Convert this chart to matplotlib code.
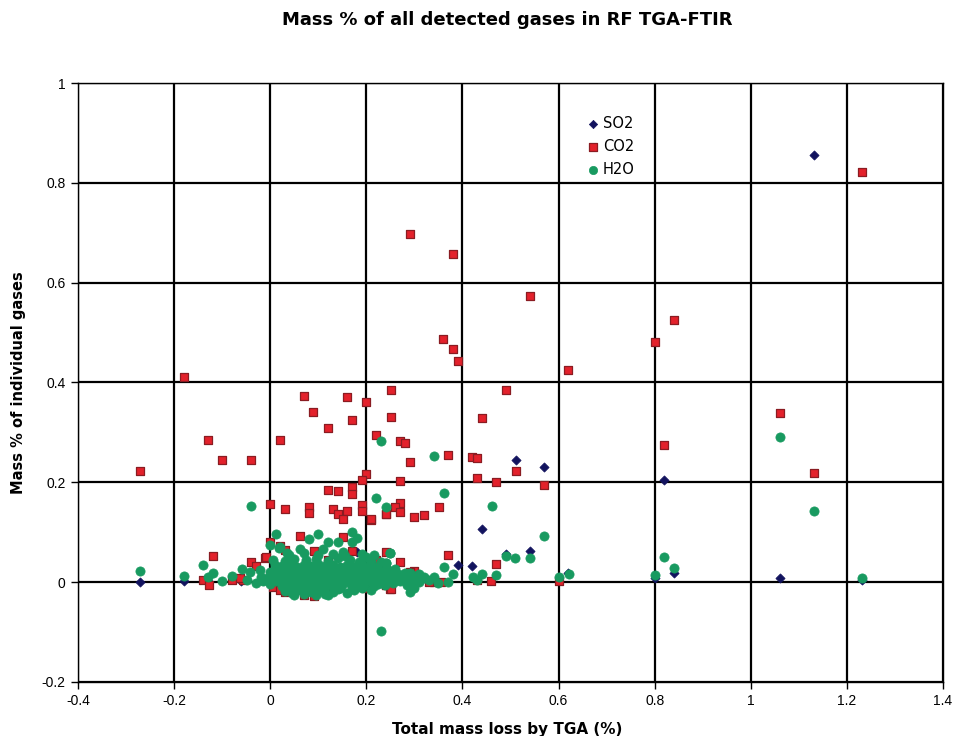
import matplotlib.pyplot as plt
import matplotlib.ticker as mticker

# ---- data ----
so2_x = [-0.27, -0.18, -0.13, -0.06, -0.02, 0.04, 0.10, 0.181, 0.22, 0.30, 0.39, 0.42,
         0.441, 0.49, 0.511, 0.541, 0.57, 0.62, 0.80, 0.82, 0.84, 1.06, 1.131, 1.231]
so2_y = [0.0, 0.002, 0.003, 0.002, 0.004, 0.003, 0.002, 0.060, 0.004, 0.003, 0.034, 0.032,
         0.106, 0.057, 0.244, 0.063, 0.231, 0.018, 0.008, 0.204, 0.018, 0.009, 0.856, 0.004]

co2_x = [-0.27, -0.179, -0.13, -0.10, -0.039, 0.02, 0.0, 0.071, 0.09, 0.12, 0.16, 0.171,
         0.20, 0.22, 0.251, 0.251, 0.27, 0.28, 0.291, 0.381, 0.36, 0.381, 0.391, 0.541,
         0.491, 0.441, 0.62, 0.80, 0.841, 1.06, 0.82, 1.131, 1.231,
         0.29, 0.37, 0.42, 0.43, 0.511, 0.43, 0.47, 0.57, 0.27, 0.27, 0.26, 0.27,
         0.24, 0.30, 0.32, 0.351, 0.21, 0.37, 0.47, 0.30, 0.24, 0.22, 0.34, 0.46, 0.60,
         0.24, 0.25, 0.2, 0.19, 0.12, 0.14, 0.171, 0.171,
         0.031, 0.081, 0.081, 0.131, 0.16, 0.142, 0.151, 0.191, 0.191, 0.21, 0.241,
         0.061, 0.0, 0.02, 0.031, 0.091, 0.151, 0.171, 0.22, -0.04, -0.03, -0.011,
         0.131, 0.091, 0.18, 0.2, 0.241, 0.251, 0.241, 0.228, 0.006, 0.02, -0.056,
         -0.12, -0.139, -0.128, -0.08, -0.063, -0.009,
         0.03, 0.05, 0.07, 0.11, 0.15, 0.27, 0.29, 0.33, 0.355, 0.43, 0.045, 0.12]
co2_y = [0.222, 0.411, 0.284, 0.245, 0.245, 0.284, 0.156, 0.373, 0.341, 0.309, 0.371, 0.325,
         0.361, 0.295, 0.384, 0.33, 0.282, 0.278, 0.697, 0.658, 0.488, 0.467, 0.444, 0.573,
         0.385, 0.329, 0.425, 0.481, 0.525, 0.338, 0.274, 0.218, 0.822,
         0.24, 0.254, 0.25, 0.248, 0.222, 0.208, 0.2, 0.194, 0.203, 0.158, 0.15, 0.14,
         0.136, 0.13, 0.134, 0.15, 0.124, 0.054, 0.036, 0.023, 0.061, 0.043, 0.0, 0.002, 0.002,
         -0.006, -0.014, 0.216, 0.204, 0.184, 0.182, 0.19, 0.176,
         0.146, 0.151, 0.139, 0.146, 0.143, 0.136, 0.126, 0.154, 0.143, 0.126, 0.136,
         0.092, 0.081, 0.072, 0.064, 0.062, 0.091, 0.062, 0.044, 0.04, 0.032, 0.049,
         -0.013, -0.028, -0.006, -0.011, -0.006, -0.013, 0.024, 0.019, -0.009, -0.016, 0.005,
         0.053, 0.004, -0.005, 0.005, 0.008, 0.051,
         -0.02, 0.0, -0.025, 0.01, 0.02, 0.04, 0.02, 0.0, 0.0, 0.005, 0.03, 0.045]

h2o_x = [-0.27, -0.18, -0.14, -0.12, -0.129, -0.10, -0.08, -0.059, -0.042, -0.021, -0.049,
         -0.04, 0.011, 0.0, 0.019, 0.10, 0.081, 0.12, 0.141, 0.17, 0.18, 0.17, 0.061, 0.11,
         0.151, 0.02, 0.215, 0.25, 0.24, 0.23, 0.341, 0.361, 0.22, 0.24, 0.461, 0.57,
         0.49, 0.51, 0.541, 0.361, 0.441, 0.47, 0.621, 0.60, 0.381, 0.421, 0.43, 0.291,
         0.30, 0.32, 0.28, 0.249, 0.24, 0.23, 0.82, 0.84, 0.80, 1.06, 1.131, 1.231, 0.035,
         # dense cluster
         0.03, 0.045, 0.055, 0.07, 0.085, 0.10, 0.115, 0.13, 0.14, 0.16, 0.175, 0.19, 0.21,
         0.06, 0.08, 0.095, 0.05, 0.12, 0.065, 0.105,
         -0.03, -0.015, 0.0, 0.012, 0.025, 0.04, 0.05, 0.065, 0.075, 0.09, 0.105, 0.12,
         0.135, 0.15, 0.165, 0.18, 0.195, 0.21, 0.225, 0.24, 0.255, 0.27, 0.285, 0.31, 0.33,
         0.35, 0.37,
         -0.02, -0.005, 0.008, 0.02, 0.033, 0.045, 0.058, 0.07, 0.082, 0.095, 0.11, 0.125,
         0.14, 0.155, 0.17, 0.185, 0.2, 0.215, 0.23, 0.245, 0.26, 0.28, 0.3, 0.32, 0.34,
         0.0, 0.015, 0.03, 0.042, 0.055, 0.068, 0.08, 0.092, 0.105, 0.118, 0.13, 0.145,
         0.16, 0.175, 0.19, 0.205, 0.22, 0.235, 0.25, 0.265, 0.29, 0.31,
         0.01, 0.025, 0.04, 0.055, 0.07, 0.085, 0.1, 0.115, 0.13, 0.145, 0.16, 0.175,
         0.19, 0.205, 0.22, 0.24, 0.26,
         0.005, 0.03, 0.05, 0.075, 0.095, 0.12, 0.14, 0.165, 0.185, 0.21, 0.23,
         0.04, 0.07, 0.1, 0.13, 0.155, 0.19, 0.2,
         0.035, 0.06, 0.09, 0.115, 0.145, 0.18,
         -0.01, 0.006, 0.022, 0.038, 0.052, 0.067, 0.083, 0.098, 0.112, 0.127, 0.142,
         0.158, 0.172, 0.188, 0.203, 0.218, 0.233, 0.248, 0.263, 0.278, 0.295,
         0.018, 0.035, 0.05, 0.063, 0.078, 0.093, 0.108, 0.122, 0.137, 0.152, 0.167,
         0.182, 0.197, 0.212, 0.228, 0.243, 0.258, 0.275,
         0.012, 0.028, 0.047, 0.062, 0.078, 0.096, 0.113, 0.128, 0.148, 0.168, 0.186,
         0.202, 0.225, 0.245,
         0.025, 0.045, 0.068, 0.088, 0.108, 0.128, 0.15, 0.17, 0.195, 0.215, 0.238]
h2o_y = [0.023, 0.012, 0.034, 0.019, 0.011, 0.003, 0.013, 0.026, 0.021, 0.024, 0.005,
         0.152, 0.096, 0.074, 0.069, 0.096, 0.087, 0.081, 0.081, 0.101, 0.089, 0.081, 0.067, 0.067,
         0.061, 0.071, 0.054, 0.059, 0.039, 0.282, 0.252, 0.178, 0.169, 0.15, 0.152, 0.092,
         0.053, 0.048, 0.049, 0.03, 0.016, 0.015, 0.016, 0.011, 0.016, 0.01, 0.004, -0.019,
         -0.012, 0.011, 0.018, 0.059, 0.038, -0.098, 0.05, 0.028, 0.014, 0.29, 0.143, 0.008, 0.058,
         # dense cluster
         -0.018, -0.022, -0.015, -0.024, -0.02, -0.017, -0.023, -0.019, -0.014, -0.021, -0.016,
         -0.012, -0.015, -0.008, -0.01, -0.025, -0.026, -0.025, -0.012, -0.006,
         -0.002, 0.003, -0.004, 0.002, -0.003, 0.001, -0.005, 0.002, -0.004, 0.0, -0.003, 0.002,
         -0.005, 0.001, -0.002, 0.003, -0.004, 0.001, -0.003, 0.002, -0.001, 0.003, -0.006,
         0.001, 0.004, -0.002, 0.001,
         0.011, 0.008, 0.012, 0.009, 0.013, 0.007, 0.011, 0.014, 0.008, 0.012, 0.01, 0.013,
         0.007, 0.012, 0.009, 0.011, 0.008, 0.012, 0.01, 0.007, 0.011, 0.009, 0.012, 0.008, 0.01,
         0.021, 0.024, 0.019, 0.025, 0.022, 0.026, 0.02, 0.024, 0.021, 0.026, 0.02, 0.023,
         0.025, 0.019, 0.024, 0.021, 0.018, 0.023, 0.02, 0.016, 0.019, 0.017,
         0.034, 0.032, 0.036, 0.031, 0.035, 0.033, 0.037, 0.032, 0.035, 0.03, 0.034, 0.031,
         0.036, 0.033, 0.03, 0.028, 0.027,
         0.045, 0.043, 0.047, 0.044, 0.046, 0.042, 0.048, 0.045, 0.041, 0.043, 0.04,
         0.055, 0.058, 0.054, 0.057, 0.052, 0.056, 0.05,
         -0.009, -0.013, -0.011, -0.01, -0.012, -0.009,
         0.006, 0.005, 0.007, 0.004, 0.006, 0.005, 0.007, 0.004, 0.006, 0.005, 0.007,
         0.004, 0.006, 0.005, 0.007, 0.004, 0.006, 0.005, 0.004, 0.006, 0.003,
         0.017, 0.016, 0.018, 0.015, 0.017, 0.016, 0.018, 0.015, 0.017, 0.016, 0.018,
         0.015, 0.017, 0.016, 0.014, 0.015, 0.013, 0.014,
         0.029, 0.028, 0.03, 0.027, 0.029, 0.028, 0.03, 0.027, 0.029, 0.028, 0.026,
         0.027, 0.025, 0.024,
         -0.007, -0.008, -0.006, -0.009, -0.007, -0.008, -0.006, -0.009, -0.007, -0.008, -0.006]

x_ticks = [-0.4, -0.2, 0, 0.2, 0.4, 0.6, 0.8, 1, 1.2, 1.4]
y_ticks = [-0.2, 0, 0.2, 0.4, 0.6, 0.8, 1]

fig = plt.figure(figsize=(9.55, 7.36), dpi=100)
ax = fig.add_axes([0.0817, 0.0734, 0.9057, 0.8138])

ax.scatter(so2_x, so2_y, marker="D", s=22, color="#12135e", edgecolors="#12135e",
           linewidths=0.5, label="SO2", zorder=3)
ax.scatter(co2_x, co2_y, marker="s", s=34, color="#e3212b", edgecolors="#8a1c22",
           linewidths=0.9, label="CO2", zorder=4)
ax.scatter(h2o_x, h2o_y, marker="o", s=44, color="#189a60", edgecolors="#189a60",
           linewidths=0.5, label="H2O", zorder=5)

ax.set_xlim(-0.4, 1.4)
ax.set_ylim(-0.2, 1)
ax.set_xticks(x_ticks)
ax.set_yticks(y_ticks)
fmt = mticker.FuncFormatter(lambda v, p: f"{v:g}")
ax.xaxis.set_major_formatter(fmt)
ax.yaxis.set_major_formatter(fmt)
ax.grid(True, color="black", linewidth=1.6, zorder=1)
ax.set_axisbelow(True)
for sp in ax.spines.values():
    sp.set_linewidth(1.0)
    sp.set_color("black")
ax.tick_params(direction="out", length=5, width=1.0, labelsize=10, pad=4)
for lab in ax.get_xticklabels() + ax.get_yticklabels():
    lab.set_fontfamily("Liberation Sans")

leg = ax.legend(loc="upper left", bbox_to_anchor=(0.578, 0.955), frameon=False,
                fontsize=10.5, handletextpad=0.1, labelspacing=0.55, markerscale=0.9,
                borderaxespad=0, handlelength=1.2)

fig.text(0.531, 0.973, "Mass % of all detected gases in RF TGA-FTIR", ha="center",
         va="center", fontsize=13, fontweight="bold", family="DejaVu Sans")
fig.text(0.531, 0.009, "Total mass loss by TGA (%)", ha="center", va="center",
         fontsize=11, fontweight="bold", family="DejaVu Sans")
fig.text(0.019, 0.48, "Mass % of individual gases", ha="center", va="center",
         rotation=90, fontsize=10.5, fontweight="bold", family="DejaVu Sans")

fig.savefig("out.png", dpi=100)
